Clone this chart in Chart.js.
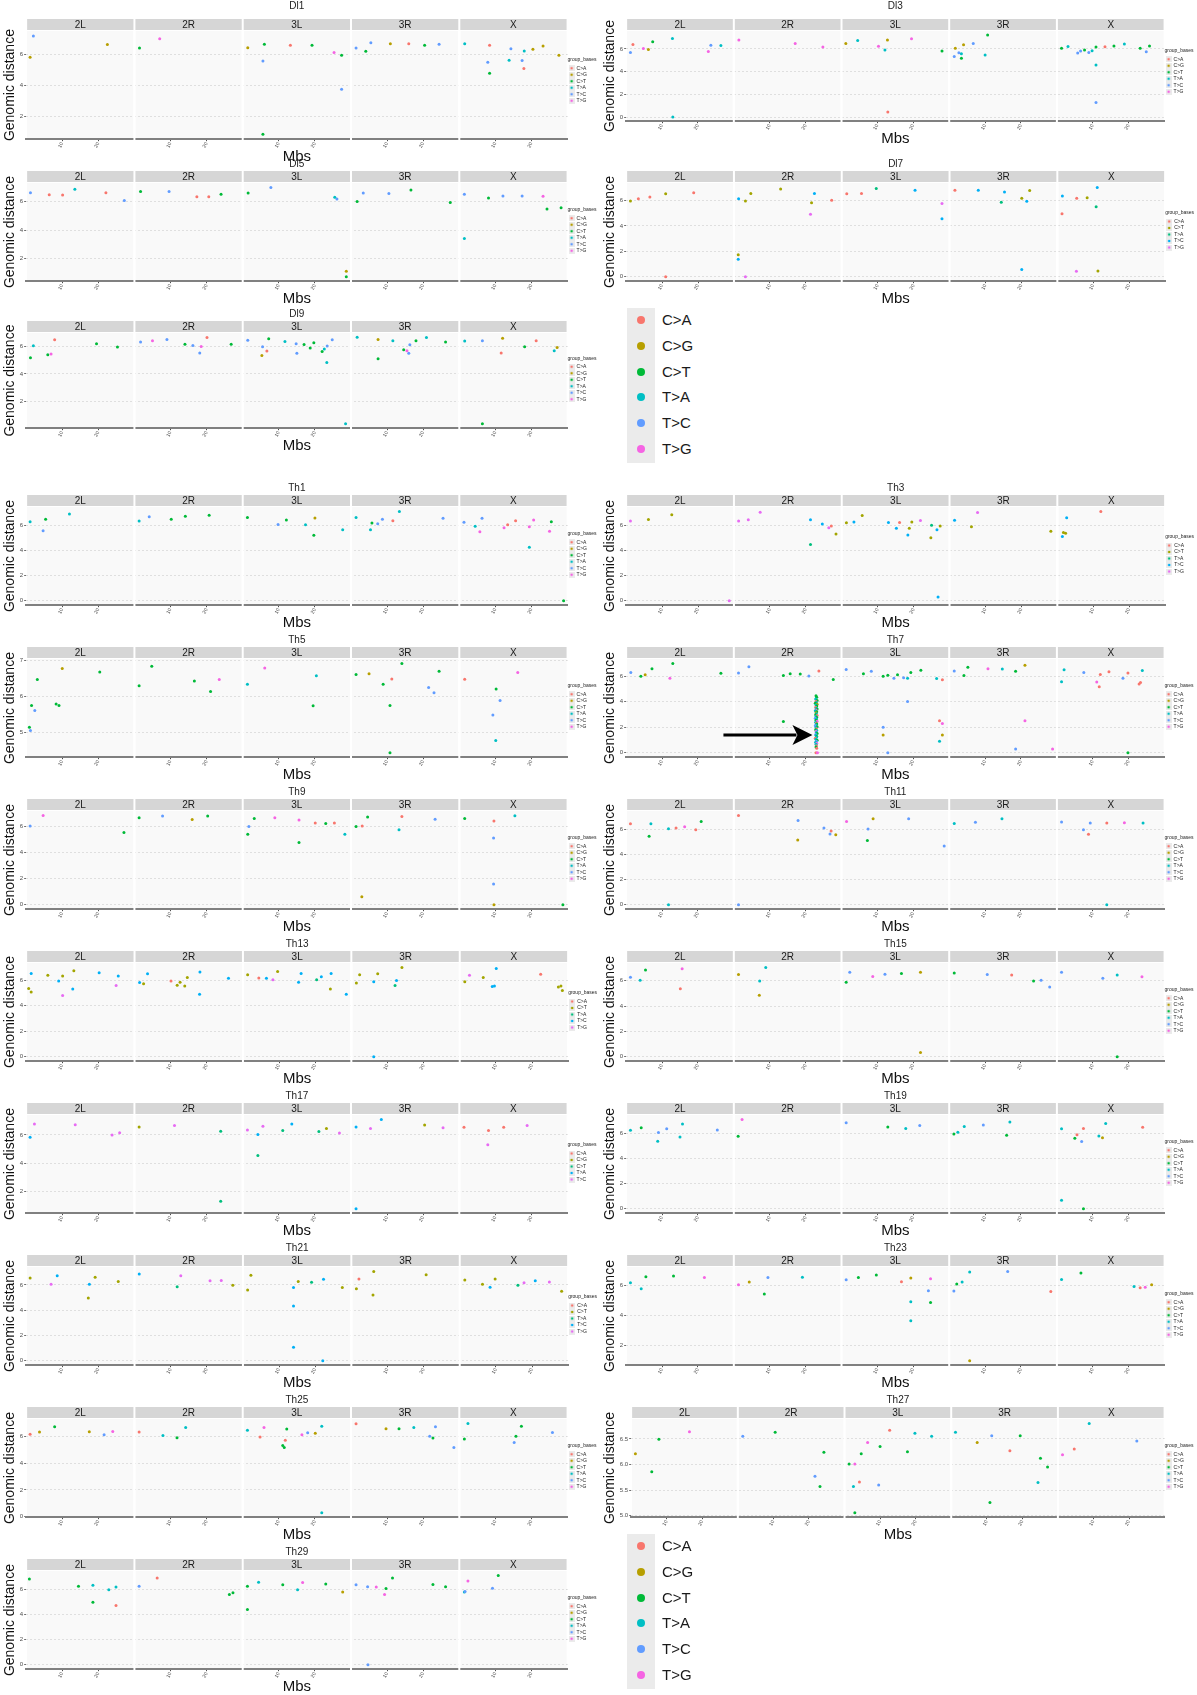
<!DOCTYPE html>
<html>
<head>
<meta charset="utf-8">
<script src="https://cdn.jsdelivr.net/npm/chart.js@4.4.1/dist/chart.umd.min.js"></script>
<style>
  body { margin: 0; background: #fff; font-family: "Liberation Sans", Arial, sans-serif; }
  #page { position: relative; width: 1197px; height: 1695px; overflow: hidden; }
  .panel { position: absolute; }
  .biglegend { position: absolute; }
  .biglegend .keys { position: absolute; left: 0; top: 0; width: 28px; background: #EBEBEB; }
  .biglegend .dot { position: absolute; width: 8px; height: 8px; border-radius: 50%; }
  .biglegend .lab { position: absolute; font-size: 15px; color: #1a1a1a; white-space: nowrap; }
</style>
</head>
<body>
<div id="page"></div>
<script>
// ---- data ----
var FACETS = ['2L', '2R', '3L', '3R', 'X'];
var TYPES = ['C>A', 'C>G', 'C>T', 'T>A', 'T>C', 'T>G'];
var HUE6 = ['#F8766D', '#B79F00', '#00BA38', '#00BFC4', '#619CFF', '#F564E3'];
var HUE5 = ['#F8766D', '#A3A500', '#00BF7D', '#00B0F6', '#E76BF3'];
var X_RANGE = [0, 30];
var X_TICKS = [10, 20];
var Y_STEP = { Th5: 1, Th27: 0.5 };
var ARROW_AT = [1, 21.9, 1.4]; // Th7: facet, Mb, distance

// each point: [Mb, genomic distance, index in TYPES]; one array per facet
var dl1 = [
  [[2.0,7.17,4],[1.1,5.80,1],[22.5,6.62,1]],
  [[1.4,6.39,2],[7.0,6.99,5]],
  [[1.4,6.41,1],[6.0,6.64,2],[5.6,5.56,4],[5.6,0.87,2],[13.2,6.57,0],[19.2,6.57,2],[25.3,6.11,5],[27.4,5.93,2],[27.4,3.75,4]],
  [[1.4,6.39,4],[4.1,6.18,2],[5.5,6.74,4],[10.9,6.67,1],[16.0,6.67,0],[20.4,6.57,2],[24.4,6.64,4]],
  [[1.5,6.67,3],[8.4,6.57,0],[7.9,5.49,4],[8.4,4.78,2],[13.8,5.61,3],[14.3,6.34,4],[17.4,5.59,4],[18.0,6.21,3],[17.9,5.08,0],[20.4,6.32,1],[23.2,6.53,1],[27.6,5.93,1]]
];
var dl3 = [
  [[1.2,5.68,4],[1.9,6.39,0],[4.8,6.03,5],[6.2,5.95,1],[7.4,6.63,2],[12.9,6.92,3],[13.0,0.0,3],[22.9,5.76,5],[23.6,6.32,4],[26.4,6.29,3]],
  [[1.4,6.79,5],[17.1,6.47,5],[24.8,6.16,5]],
  [[1.2,6.47,1],[4.5,6.74,3],[10.3,6.24,5],[12.1,5.89,3],[12.8,6.79,1],[12.9,0.45,0],[19.5,6.89,5],[28.0,5.82,2]],
  [[1.4,5.32,4],[1.7,6.05,1],[2.7,5.66,4],[3.4,5.58,3],[3.4,5.18,2],[4.0,6.37,1],[6.7,6.47,4],[10.0,5.45,3],[10.7,7.21,2]],
  [[1.3,6.05,2],[3.1,6.21,3],[5.8,5.63,4],[6.6,5.82,4],[7.7,5.89,2],[8.9,5.68,4],[9.8,5.84,3],[10.9,6.16,2],[10.9,4.58,3],[10.9,1.29,4],[13.4,6.18,0],[15.9,6.26,2],[18.8,6.42,3],[23.2,6.05,2],[24.9,5.74,4],[25.8,6.26,2]]
];
var dl5 = [
  [[1.2,6.61,4],[6.4,6.48,0],[10.1,6.45,0],[13.5,6.86,3],[22.1,6.61,0],[27.2,6.07,4]],
  [[1.7,6.70,2],[9.6,6.70,4],[17.3,6.34,0],[20.6,6.34,0],[24.0,6.50,2]],
  [[1.5,6.59,2],[7.8,6.98,4],[26.1,6.18,4],[25.5,6.30,3],[28.7,1.14,1],[28.7,0.75,2]],
  [[1.7,6.00,2],[3.4,6.59,4],[10.5,6.55,4],[16.6,6.80,2],[27.5,5.93,2]],
  [[1.4,6.50,4],[1.4,3.41,3],[8.1,6.25,2],[12.1,6.39,4],[17.4,6.39,4],[23.2,6.36,5],[24.3,5.48,2],[28.2,5.57,2]]
];
var dl7 = [
  [[1.2,5.97,2],[3.4,6.15,0],[6.6,6.28,0],[11.0,6.54,2],[18.8,6.62,0],[11.0,0.0,0]],
  [[1.3,6.15,4],[3.2,5.97,2],[4.7,6.56,2],[13.0,6.90,2],[21.6,5.82,2],[22.4,6.56,4],[21.3,4.92,5],[27.2,6.03,0],[1.2,1.74,2],[1.2,1.38,4],[3.2,0.0,5]],
  [[1.4,6.54,0],[5.5,6.56,0],[9.6,6.95,3],[20.4,6.82,4],[27.9,5.77,5],[27.9,4.56,4]],
  [[1.5,6.82,0],[8.0,6.82,4],[15.3,6.67,4],[14.4,5.87,3],[20.1,6.18,2],[21.5,5.95,4],[22.3,6.79,2],[20.1,0.56,4]],
  [[1.4,6.36,4],[1.3,4.95,0],[5.4,6.18,0],[8.3,6.21,2],[11.1,7.03,4],[10.8,5.51,3],[5.3,0.44,5],[11.3,0.46,2]]
];
var dl9 = [
  [[1.2,5.19,2],[2.0,6.07,3],[6.0,5.42,2],[6.9,5.47,5],[7.9,6.51,0],[19.5,6.21,2],[25.3,5.98,2]],
  [[1.7,6.35,4],[5.0,6.44,5],[9.0,6.53,4],[14.0,6.18,2],[16.2,6.09,4],[18.5,6.02,5],[18.1,5.54,4],[20.1,6.67,0],[26.8,6.18,2]],
  [[1.4,6.48,4],[5.5,6.00,4],[5.3,5.35,1],[6.7,5.68,0],[7.2,6.58,2],[11.7,6.39,3],[14.8,6.21,4],[17.0,6.16,2],[15.0,5.52,4],[18.7,5.91,2],[19.7,6.30,2],[22.0,5.65,2],[22.6,5.84,3],[23.4,6.05,4],[24.8,6.51,4],[23.3,4.85,3],[28.5,0.34,3]],
  [[1.7,6.69,3],[7.5,6.53,1],[7.5,5.12,2],[11.6,6.44,3],[14.6,5.77,2],[15.5,5.70,5],[16.0,5.52,4],[16.3,6.14,4],[18.0,6.44,2],[20.9,6.67,3],[26.2,6.35,2]],
  [[1.5,6.42,3],[6.4,6.44,4],[12.0,6.62,1],[11.6,5.54,0],[18.1,6.00,2],[21.3,6.44,0],[26.3,5.70,3],[27.1,5.95,1],[6.4,0.34,2]]
];
var th1 = [
  [[1.1,6.27,3],[4.7,5.55,4],[5.4,6.48,2],[12.0,6.88,3]],
  [[1.3,6.33,3],[4.1,6.67,4],[10.2,6.48,2],[14.1,6.70,2],[20.7,6.79,2]],
  [[1.3,6.61,2],[9.8,6.06,4],[12.1,6.42,2],[17.4,6.03,3],[19.7,5.21,2],[20.0,6.58,1],[27.7,5.64,3]],
  [[1.4,6.61,3],[5.4,5.64,3],[5.8,6.18,2],[7.4,6.12,4],[8.7,6.48,4],[11.6,6.36,0],[13.4,7.09,3],[25.5,6.55,4]],
  [[1.3,6.24,4],[4.4,5.91,3],[5.7,5.48,5],[6.3,6.55,4],[12.4,5.79,5],[13.4,6.03,0],[15.6,6.36,0],[19.4,5.88,5],[19.4,4.24,3],[20.6,6.42,5],[25.0,5.52,5],[25.5,6.27,2],[28.9,0.0,2]]
];
var th3 = [
  [[1.2,6.36,5],[6.2,6.48,2],[12.7,6.85,2],[28.7,0.0,5]],
  [[1.3,6.36,5],[4.0,6.45,5],[7.3,7.06,5],[21.3,6.45,4],[21.3,4.48,3],[24.6,6.12,4],[26.4,5.82,5],[27.1,5.97,0],[28.4,5.33,2]],
  [[1.3,6.21,2],[3.4,6.27,4],[5.7,6.79,2],[13.0,6.24,4],[15.2,5.79,4],[16.1,6.24,0],[18.8,5.79,2],[18.4,5.24,4],[19.5,6.27,2],[21.9,6.39,5],[25.0,6.03,3],[26.5,5.67,4],[27.4,5.97,2],[24.8,5.03,2],[26.8,0.30,4]],
  [[1.4,6.42,4],[6.1,5.91,2],[7.8,7.03,5],[28.2,5.55,2]],
  [[1.4,5.12,4],[1.7,5.45,2],[2.3,5.39,2],[2.6,6.61,4],[12.1,7.12,0]]
];
var th5 = [
  [[0.9,5.14,2],[1.2,5.05,4],[1.5,5.75,2],[2.4,5.61,4],[3.1,6.47,2],[8.3,5.79,2],[9.1,5.75,2],[10.0,6.78,1],[20.4,6.68,2]],
  [[1.3,6.30,2],[4.8,6.84,2],[16.6,6.43,2],[21.1,6.14,2],[23.5,6.47,5]],
  [[1.3,6.34,3],[6.1,6.79,5],[19.5,5.74,2],[20.4,6.58,3]],
  [[1.4,6.61,2],[5.0,6.63,1],[8.9,6.34,2],[11.3,6.49,0],[10.8,5.75,2],[14.1,6.92,2],[10.8,4.43,2],[21.5,6.25,4],[23.0,6.10,4],[24.4,6.70,2]],
  [[1.5,6.48,0],[10.2,6.21,2],[11.3,5.89,4],[9.3,5.48,4],[10.1,4.77,3],[16.2,6.67,5]]
];
var th7 = [
  [[1.3,6.30,4],[4.1,6.00,2],[5.3,6.12,1],[7.2,6.60,2],[13.0,7.01,2],[12.2,5.85,5],[26.4,6.24,2]],
  [[1.3,6.27,4],[4.2,6.75,4],[13.8,6.06,2],[15.7,6.21,2],[18.5,6.18,2],[20.9,6.03,4],[23.7,6.42,0],[27.7,5.76,2],[13.8,2.45,2],
   [22.9,4.48,2],[23.1,4.35,2],[22.8,4.22,3],[23.2,4.10,2],[22.9,4.02,0],[23.0,3.95,3],[22.7,3.88,2],[23.2,3.81,1],[22.9,3.74,3],[23.1,3.66,2],
   [22.8,3.58,0],[23.0,3.50,3],[23.2,3.43,2],[22.9,3.36,5],[22.7,3.29,3],[23.1,3.21,2],[22.9,3.14,1],[23.0,3.06,3],[22.8,2.99,2],[23.2,2.92,0],
   [22.9,2.85,3],[23.1,2.77,2],[22.7,2.70,4],[23.0,2.62,3],[22.9,2.55,2],[23.2,2.48,5],[22.8,2.40,3],[23.0,2.33,0],[23.1,2.26,2],[22.9,2.18,3],
   [22.7,2.11,4],[23.2,2.04,2],[22.9,1.96,3],[23.0,1.89,0],[22.8,1.81,2],[23.1,1.74,3],[22.9,1.66,5],[23.0,1.58,3],[23.2,1.51,2],[22.8,1.43,4],
   [22.9,1.36,3],[23.1,1.28,2],[23.0,1.21,3],[22.7,1.13,0],[22.9,1.05,3],[23.2,0.98,2],[23.0,0.90,4],[22.8,0.82,3],[23.1,0.74,5],[22.9,0.66,3],
   [23.0,0.55,0],[22.9,0.45,2],[23.1,0.36,0],[22.9,0.0,0],[23.3,0.0,5]],
  [[1.3,6.54,4],[6.1,6.21,2],[8.3,6.39,4],[11.6,6.00,2],[12.9,6.09,2],[14.6,5.85,4],[15.6,6.12,2],[17.3,5.88,4],[18.4,5.85,3],[19.3,6.30,2],[22.1,6.48,2],[26.5,5.82,3],[28.1,5.73,0],[18.4,4.03,4],[11.6,2.00,4],[11.6,1.40,1],[12.9,0.0,4],[27.3,2.51,0],[28.1,2.30,5],[28.1,1.40,1],[27.3,0.90,3]],
  [[1.4,6.42,4],[4.1,6.06,2],[5.2,6.72,2],[10.8,6.60,5],[14.8,6.57,3],[18.5,6.39,2],[21.1,6.87,1],[21.1,2.51,5],[18.5,0.30,4],[28.8,0.30,5]],
  [[1.3,5.58,3],[2.0,6.51,3],[7.5,6.30,4],[11.1,5.55,5],[11.8,5.19,0],[12.1,6.15,0],[14.5,6.36,0],[18.4,5.85,4],[19.8,6.27,0],[19.8,0.0,2],[22.9,5.40,0],[23.3,5.52,0],[23.8,6.45,3]]
];
var th9 = [
  [[1.1,6.06,4],[4.7,6.87,5],[27.1,5.56,2]],
  [[1.3,6.70,2],[7.8,6.82,4],[16.0,6.55,1],[20.3,6.82,2]],
  [[1.4,5.42,2],[1.7,6.03,4],[3.2,6.64,2],[8.9,6.70,5],[15.6,6.52,5],[15.6,4.78,2],[20.1,6.29,0],[23.0,6.26,2],[25.4,6.29,0],[28.3,5.42,3]],
  [[1.4,6.03,2],[3.1,6.06,0],[4.6,6.76,2],[3.0,0.61,1],[13.3,5.77,3],[14.1,6.79,0],[23.3,6.58,4]],
  [[1.5,6.64,2],[9.6,6.44,0],[9.5,5.13,4],[15.4,6.85,3],[9.5,1.60,4],[9.6,0.0,1],[28.7,0.0,2]]
];
var th11 = [
  [[1.2,6.42,0],[6.4,5.43,2],[6.9,6.42,3],[11.8,6.03,3],[13.9,6.09,0],[16.3,6.18,5],[19.4,5.94,0],[20.9,6.60,2],[11.8,0.0,3]],
  [[1.3,7.08,0],[1.3,0.0,4],[17.9,6.69,4],[17.8,5.13,1],[25.1,6.09,4],[27.1,5.85,0],[26.8,5.61,4],[28.4,5.55,1]],
  [[1.4,6.60,5],[8.8,6.81,1],[7.4,6.00,4],[7.2,5.10,2],[18.7,6.81,4],[28.6,4.65,4]],
  [[1.4,6.45,3],[7.3,6.54,4],[14.7,6.81,3]],
  [[1.3,6.57,4],[7.4,5.94,4],[8.8,5.58,0],[9.3,6.48,4],[13.9,6.48,0],[18.8,6.51,5],[24.0,6.48,3],[13.9,0.0,3]]
];
var th13 = [
  [[0.7,5.35,2],[1.4,5.08,2],[1.4,6.53,4],[6.0,6.39,2],[9.0,5.94,4],[10.1,6.33,2],[10.1,4.81,5],[12.9,5.32,4],[13.2,6.74,2],[20.2,6.59,4],[25.5,6.33,4],[24.9,5.58,5]],
  [[1.4,5.82,4],[2.5,5.73,2],[3.6,6.50,4],[10.1,5.94,0],[11.8,5.61,2],[12.6,5.85,2],[13.9,5.55,2],[14.6,6.21,2],[18.1,6.65,4],[18.0,4.90,4],[26.0,6.15,4]],
  [[1.3,6.42,2],[4.4,6.18,0],[6.5,6.15,4],[8.3,6.03,5],[9.6,6.68,2],[15.4,5.85,4],[16.1,6.53,4],[20.4,6.03,3],[21.7,6.27,4],[24.4,6.53,4],[24.2,5.32,2],[28.6,4.90,4]],
  [[1.4,5.79,2],[2.3,6.42,2],[6.2,5.88,4],[7.3,6.50,2],[6.2,0.0,4],[12.1,5.58,3],[12.5,5.97,4],[14.0,7.00,2]],
  [[1.4,5.88,2],[2.7,6.39,5],[6.5,6.21,2],[9.0,5.50,4],[9.6,5.55,4],[10.1,6.92,4],[22.4,6.47,0],[27.3,5.47,2],[28.0,5.55,2],[28.4,5.20,2]]
];
var th15 = [
  [[1.2,6.27,4],[3.9,6.03,3],[5.4,6.84,2],[15.6,6.93,5],[15.1,5.37,0]],
  [[1.3,6.48,1],[7.2,5.97,3],[8.9,7.04,3],[7.1,4.84,1]],
  [[1.3,5.88,2],[2.3,6.66,4],[8.7,6.33,5],[12.1,6.51,4],[16.7,6.57,2],[22.0,6.66,1],[22.0,0.33,1]],
  [[1.4,6.60,2],[10.6,6.48,4],[17.4,6.45,0],[23.5,5.97,2],[25.6,6.03,4],[28.0,5.49,4]],
  [[1.3,6.66,4],[12.8,6.18,4],[16.8,6.45,3],[23.7,6.30,5],[16.8,0.0,2]]
];
var th17 = [
  [[1.1,5.84,3],[2.3,6.78,4],[13.6,6.72,4],[23.8,6.00,4],[25.9,6.16,4]],
  [[1.3,6.56,1],[11.1,6.67,4],[23.9,6.27,2],[23.9,1.28,2]],
  [[1.3,6.35,4],[4.2,6.03,3],[5.6,6.62,4],[4.2,4.53,2],[11.1,6.32,2],[13.6,6.78,3],[21.1,6.24,2],[23.2,6.46,1],[26.8,6.13,4]],
  [[1.4,6.56,3],[5.4,6.46,4],[8.4,7.10,3],[20.4,6.70,1],[25.5,6.51,4],[1.4,0.75,3]],
  [[1.3,6.54,0],[8.1,6.32,0],[7.9,5.30,4],[12.3,6.54,0],[18.8,6.67,4]]
];
var th19 = [
  [[1.2,6.27,3],[4.2,6.48,2],[9.0,6.09,4],[8.8,5.40,3],[11.3,6.39,4],[15.7,6.78,3],[15.0,5.73,3],[25.4,6.30,4]],
  [[2.3,7.14,5],[1.2,5.79,2]],
  [[1.3,6.87,4],[12.9,6.54,2],[17.9,6.42,3],[21.8,6.66,4]],
  [[1.3,5.97,2],[2.4,6.12,3],[4.2,6.57,3],[9.5,6.69,4],[16.9,6.93,3],[16.0,5.88,2]],
  [[1.3,6.39,3],[1.3,0.68,3],[5.0,5.64,2],[5.6,5.91,0],[7.4,6.42,0],[6.9,5.37,4],[7.4,0.0,2],[11.7,5.82,3],[12.7,5.67,1],[13.6,6.81,3],[23.9,6.51,0]]
];
var th21 = [
  [[1.1,6.56,2],[6.9,6.06,5],[8.6,6.74,4],[17.5,6.06,4],[17.2,4.96,2],[19.1,6.62,2],[25.5,6.27,2]],
  [[1.3,6.86,4],[11.8,5.85,3],[12.8,6.74,5],[20.9,6.33,5],[24.0,6.36,5],[27.2,5.97,2]],
  [[1.3,5.61,2],[2.2,6.77,2],[14.0,5.79,4],[15.3,6.27,2],[14.0,4.34,4],[14.0,1.07,4],[19.0,6.21,3],[22.3,6.45,4],[22.1,0.0,4],[27.5,5.79,2]],
  [[1.4,5.70,2],[2.1,6.47,0],[6.0,5.20,2],[6.2,7.07,2],[20.7,6.80,2]],
  [[1.4,6.39,2],[6.3,6.06,2],[8.4,5.82,4],[9.8,6.47,2],[16.1,5.97,3],[17.8,6.18,5],[20.9,6.33,4],[24.8,6.24,5],[28.2,5.50,2]]
];
var th23 = [
  [[1.2,6.15,3],[4.2,5.75,3],[5.5,6.55,2],[13.2,6.60,2],[21.8,6.50,5]],
  [[1.3,6.03,5],[4.3,6.20,1],[8.5,5.40,2],[9.5,6.50,4],[19.1,6.53,3]],
  [[1.3,6.35,4],[4.7,6.50,2],[9.7,6.68,2],[16.7,6.23,0],[19.3,6.48,1],[19.3,4.89,3],[19.3,3.63,3],[24.8,6.43,5],[24.2,5.62,4],[24.8,4.84,2]],
  [[1.3,5.60,4],[2.1,6.08,2],[3.6,6.20,3],[5.7,6.88,3],[5.7,0.96,1],[16.3,6.91,4],[28.3,5.57,0]],
  [[1.3,6.38,3],[6.7,6.81,2],[21.5,5.90,3],[23.2,5.82,0],[24.6,5.85,5],[26.4,6.03,1]]
];
var th25 = [
  [[1.1,6.14,0],[3.7,6.31,1],[7.9,6.70,2],[17.5,6.34,1],[21.6,6.11,4],[24.0,6.36,5]],
  [[1.3,6.31,0],[7.9,6.06,3],[11.8,5.89,2],[14.2,6.64,3]],
  [[1.3,6.45,3],[4.8,5.94,0],[5.9,6.64,5],[11.8,5.69,0],[11.1,5.30,2],[11.5,5.16,2],[12.2,6.53,2],[16.4,6.11,5],[18.0,6.25,4],[20.1,6.22,1],[21.9,6.75,3],[21.9,0.30,3]],
  [[1.4,6.92,0],[9.7,6.56,1],[13.3,6.56,2],[17.4,6.64,3],[21.8,6.00,4],[22.7,5.86,2],[23.4,6.70,4],[28.5,5.16,4]],
  [[1.4,5.80,2],[2.4,6.95,3],[15.2,5.53,4],[15.7,6.00,2],[17.2,6.75,2],[25.8,6.28,4]]
];
var th27 = [
  [[1.2,6.21,1],[5.8,5.86,2],[7.8,6.49,2],[16.4,6.64,5]],
  [[1.4,6.55,4],[10.5,6.63,2],[24.2,6.24,2],[21.7,5.77,4],[23.1,5.57,2]],
  [[1.3,6.01,2],[2.9,6.01,5],[4.7,6.21,2],[6.5,6.43,5],[10.0,6.35,2],[12.7,6.67,0],[4.2,5.66,0],[2.5,5.57,3],[2.9,5.06,2],[9.6,5.60,4],[17.7,6.25,2],[19.8,6.61,3],[24.5,6.55,3]],
  [[1.2,6.63,3],[7.3,6.43,1],[11.4,6.56,4],[16.5,6.27,0],[19.4,6.56,2],[10.9,5.26,2],[25.1,6.12,2],[24.4,5.65,3],[27.1,5.95,2]],
  [[1.3,6.19,5],[4.6,6.30,0],[8.8,6.80,3],[22.2,6.46,4]]
];
var th29 = [
  [[0.9,6.81,2],[14.5,6.24,2],[18.5,6.33,3],[18.5,4.96,2],[22.9,5.97,3],[24.9,6.18,3],[24.9,4.72,0]],
  [[1.3,6.24,4],[6.3,6.90,0],[26.3,5.58,2],[27.3,5.73,2]],
  [[1.3,6.24,2],[4.4,6.57,3],[1.3,4.39,2],[11.1,6.36,2],[15.2,5.97,3],[16.6,6.54,5],[23.0,6.42,2],[27.7,5.79,1]],
  [[1.4,6.36,4],[4.6,6.21,4],[7.0,6.18,5],[9.3,5.58,5],[9.7,6.06,2],[11.5,6.90,2],[4.7,0.0,4],[22.7,6.39,2],[26.2,6.21,2]],
  [[1.4,5.79,3],[1.6,5.82,4],[2.4,6.66,5],[9.2,6.09,4],[10.8,7.10,2]]
];

var SERIES = {
  Dl1: dl1, Dl3: dl3, Dl5: dl5, Dl7: dl7, Dl9: dl9,
  Th1: th1, Th3: th3, Th5: th5, Th7: th7, Th9: th9, Th11: th11, Th13: th13, Th15: th15,
  Th17: th17, Th19: th19, Th21: th21, Th23: th23, Th25: th25, Th27: th27, Th29: th29
};

// ---- layout ----
var LAYOUT = [
  { name: 'Dl1', left: 0, top: -2, width: 600, height: 166, gap: 19 },
  { name: 'Dl3', left: 600, top: -2, width: 597, height: 148, gap: 19 },
  { name: 'Dl5', left: 0, top: 156, width: 600, height: 150, gap: 13 },
  { name: 'Dl7', left: 600, top: 156, width: 597, height: 150, gap: 13 },
  { name: 'Dl9', left: 0, top: 306, width: 600, height: 147, gap: 13 },
  { name: 'Th1', left: 0, top: 480, width: 600, height: 150, gap: 13 },
  { name: 'Th3', left: 600, top: 480, width: 597, height: 150, gap: 13 },
  { name: 'Th5', left: 0, top: 632, width: 600, height: 150, gap: 13 },
  { name: 'Th7', left: 600, top: 632, width: 597, height: 150, gap: 13 },
  { name: 'Th9', left: 0, top: 784, width: 600, height: 150, gap: 13 },
  { name: 'Th11', left: 600, top: 784, width: 597, height: 150, gap: 13 },
  { name: 'Th13', left: 0, top: 936, width: 600, height: 150, gap: 13 },
  { name: 'Th15', left: 600, top: 936, width: 597, height: 150, gap: 13 },
  { name: 'Th17', left: 0, top: 1088, width: 600, height: 150, gap: 13 },
  { name: 'Th19', left: 600, top: 1088, width: 597, height: 150, gap: 13 },
  { name: 'Th21', left: 0, top: 1240, width: 600, height: 150, gap: 13 },
  { name: 'Th23', left: 600, top: 1240, width: 597, height: 150, gap: 13 },
  { name: 'Th25', left: 0, top: 1392, width: 600, height: 150, gap: 13 },
  { name: 'Th27', left: 600, top: 1392, width: 597, height: 150, gap: 13 },
  { name: 'Th29', left: 0, top: 1544, width: 600, height: 150, gap: 13 }
];
var BIG_LEGENDS = [{ left: 627, top: 308 }, { left: 627, top: 1534 }];

var FONT = '"Liberation Sans", Arial, sans-serif';
Chart.defaults.font.family = FONT;

// grey facet panels and strip labels
var facetPlugin = {
  id: 'facets',
  beforeDraw: function (chart) {
    var ctx = chart.ctx, area = chart.chartArea;
    ctx.save();
    FACETS.forEach(function (f, i) {
      var s = chart.scales['x' + i];
      var l = s.left + 1, w = s.width - 2;
      ctx.fillStyle = '#F9F9F9';
      ctx.fillRect(l, area.top, w, area.bottom - area.top);
      ctx.fillStyle = '#D6D6D6';
      ctx.fillRect(l, area.top - 12, w, 11);
      ctx.fillStyle = '#1A1A1A';
      ctx.font = '10px ' + FONT;
      ctx.textAlign = 'center';
      ctx.textBaseline = 'middle';
      ctx.fillText(f, l + w / 2, area.top - 6);
    });
    ctx.restore();
  },
  beforeDatasetsDraw: function (chart) {
    var ctx = chart.ctx, area = chart.chartArea;
    ctx.save();
    ctx.fillStyle = '#fff';
    for (var i = 0; i < FACETS.length - 1; i++) {
      var b = chart.scales['x' + i].right;
      ctx.fillRect(b - 1, area.top, 2, area.bottom - area.top + 3);
    }
    ctx.restore();
  }
};

// the black arrow in Th7
var arrowPlugin = {
  id: 'arrow',
  afterDatasetsDraw: function (chart, args, opts) {
    if (!opts.at) return;
    var ctx = chart.ctx;
    var tip = chart.scales['x' + opts.at[0]].getPixelForValue(opts.at[1]);
    var y = chart.scales.y.getPixelForValue(opts.at[2]);
    ctx.save();
    ctx.strokeStyle = '#000';
    ctx.fillStyle = '#000';
    ctx.lineWidth = 3;
    ctx.beginPath();
    ctx.moveTo(tip - 89, y);
    ctx.lineTo(tip - 16, y);
    ctx.stroke();
    ctx.beginPath();
    ctx.moveTo(tip, y);
    ctx.lineTo(tip - 20, y - 10);
    ctx.lineTo(tip - 15, y);
    ctx.lineTo(tip - 20, y + 10);
    ctx.closePath();
    ctx.fill();
    ctx.restore();
  }
};

function keyImage(color) {
  var c = document.createElement('canvas');
  c.width = 6; c.height = 6;
  var g = c.getContext('2d');
  g.fillStyle = '#EBEBEB';
  g.fillRect(0, 0, 6, 6);
  g.fillStyle = color;
  g.beginPath();
  g.arc(3, 3, 1.3, 0, Math.PI * 2);
  g.fill();
  return c;
}

function makePanel(spec) {
  var series = SERIES[spec.name];
  var page = document.getElementById('page');
  var div = document.createElement('div');
  div.className = 'panel';
  div.style.left = spec.left + 'px';
  div.style.top = spec.top + 'px';
  var canvas = document.createElement('canvas');
  canvas.width = spec.width;
  canvas.height = spec.height;
  div.appendChild(canvas);
  page.appendChild(div);

  // mutation types present in this sample decide the palette
  var present = [];
  var ys = [];
  series.forEach(function (pts) {
    pts.forEach(function (p) {
      if (present.indexOf(p[2]) < 0) present.push(p[2]);
      ys.push(p[1]);
    });
  });
  present.sort(function (a, b) { return a - b; });
  var pal = present.length === 6 ? HUE6 : HUE5;
  function colorOf(t) { return pal[present.indexOf(t)]; }

  var lo = Math.min.apply(null, ys), hi = Math.max.apply(null, ys);
  var pad = (hi - lo) * 0.05;
  var step = Y_STEP[spec.name] || 2;

  var scales = {};
  FACETS.forEach(function (f, i) {
    scales['x' + i] = {
      type: 'linear', position: 'bottom', stack: 'facet', stackWeight: 1,
      min: X_RANGE[0], max: X_RANGE[1],
      afterBuildTicks: function (s) { s.ticks = X_TICKS.map(function (v) { return { value: v }; }); },
      grid: { display: true, drawOnChartArea: false, tickLength: 2, color: '#4d4d4d' },
      border: { display: true, color: '#808080', width: 2 },
      ticks: { autoSkip: false, minRotation: 60, maxRotation: 60, padding: 0, font: { size: 5 }, color: '#4d4d4d' }
    };
  });
  scales.y = {
    type: 'linear', position: 'left',
    min: lo - pad, max: hi + pad,
    ticks: {
      stepSize: step, includeBounds: false, padding: 1, font: { size: 6 }, color: '#4d4d4d',
      callback: function (v) { return step < 1 ? v.toFixed(1) : String(v); }
    },
    grid: { color: '#D9D9D9', lineWidth: 0.8, tickLength: 2, tickColor: '#4d4d4d' },
    border: { display: false, dash: [2, 2] },
    title: { display: true, text: 'Genomic distance', font: { size: 14 }, color: '#111', padding: 0 }
  };

  var datasets = FACETS.map(function (f, i) {
    return {
      label: f,
      xAxisID: 'x' + i,
      yAxisID: 'y',
      data: series[i].map(function (p) { return { x: p[0], y: p[1] }; }),
      pointBackgroundColor: series[i].map(function (p) { return colorOf(p[2]); }),
      pointBorderWidth: 0,
      pointRadius: 1.5
    };
  });

  new Chart(canvas, {
    type: 'scatter',
    data: { datasets: datasets },
    options: {
      responsive: false,
      maintainAspectRatio: false,
      animation: false,
      devicePixelRatio: 1,
      events: [],
      layout: { padding: { left: 2, right: 3, top: 0, bottom: 0 } },
      scales: scales,
      plugins: {
        tooltip: { enabled: false },
        title: {
          display: true, text: spec.name, fullSize: false, color: '#222',
          font: { size: 10, weight: 'normal' }, padding: { top: 2, bottom: spec.gap }
        },
        subtitle: {
          display: true, text: 'Mbs', position: 'bottom', fullSize: false, color: '#111',
          font: { size: 15, weight: 'normal', lineHeight: 1 }, padding: { top: 0, bottom: 0 }
        },
        legend: {
          display: true, position: 'right', align: 'center', onClick: null,
          title: { display: true, text: 'group_bases', position: 'start', color: '#222', font: { size: 5 }, padding: { top: 0, bottom: 1 } },
          labels: {
            usePointStyle: true, boxWidth: 6, boxHeight: 6, padding: 1.5,
            font: { size: 5 }, color: '#333',
            generateLabels: function () {
              return present.map(function (t, k) {
                return {
                  text: TYPES[t], fillStyle: pal[k], strokeStyle: pal[k], lineWidth: 0,
                  pointStyle: keyImage(pal[k]), hidden: false, datasetIndex: 0
                };
              });
            }
          }
        },
        arrow: { at: spec.name === 'Th7' ? ARROW_AT : null }
      }
    },
    plugins: [facetPlugin, arrowPlugin]
  });
}

LAYOUT.forEach(makePanel);

// the two big shared legends
BIG_LEGENDS.forEach(function (pos) {
  var page = document.getElementById('page');
  var box = document.createElement('div');
  box.className = 'biglegend';
  box.style.left = pos.left + 'px';
  box.style.top = pos.top + 'px';
  var keys = document.createElement('div');
  keys.className = 'keys';
  keys.style.height = (TYPES.length * 25.8) + 'px';
  box.appendChild(keys);
  TYPES.forEach(function (t, i) {
    var cy = 12 + i * 25.8;
    var dot = document.createElement('div');
    dot.className = 'dot';
    dot.style.background = HUE6[i];
    dot.style.left = '10px';
    dot.style.top = (cy - 4) + 'px';
    box.appendChild(dot);
    var lab = document.createElement('div');
    lab.className = 'lab';
    lab.textContent = t;
    lab.style.left = '35px';
    lab.style.top = (cy - 9) + 'px';
    box.appendChild(lab);
  });
  page.appendChild(box);
});
</script>
</body>
</html>
